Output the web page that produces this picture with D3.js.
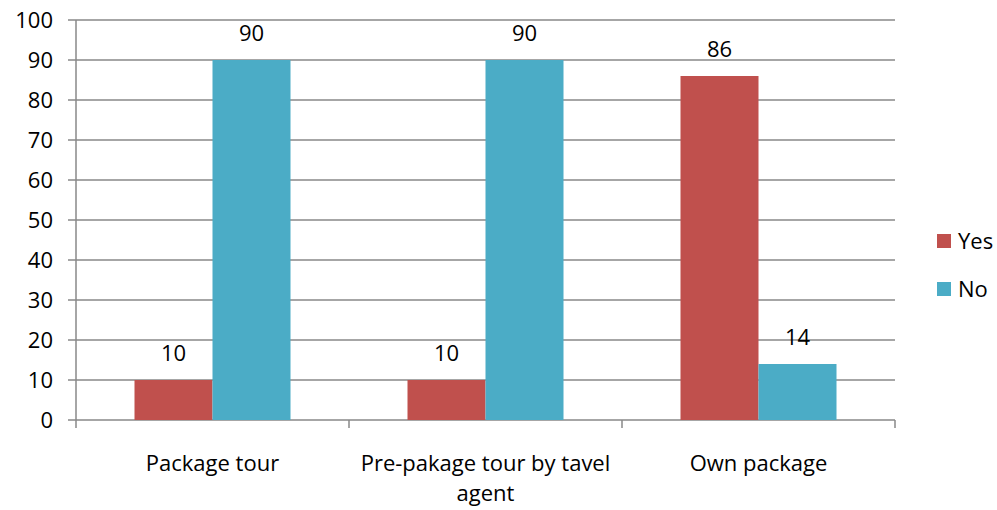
<!DOCTYPE html>
<html>
  <head>
    <meta charset="utf-8">
    <title></title>
    <style>
      body { margin: 0; background: #fff; }
      text { font-family: "Open Sans", "Noto Sans", sans-serif; fill: #000; }
    </style>
  </head>
  <body>
    <script src="https://cdn.jsdelivr.net/npm/d3@7"></script>
    <script>
      var categories = ['Package tour', 'Pre-pakage tour by tavel agent', 'Own package'];
      var categoryLines = [['Package tour'], ['Pre-pakage tour by tavel', 'agent'], ['Own package']];
      var seriesNames = ['Yes', 'No'];
      var yesValues = [10, 10, 86];
      var noValues = [90, 90, 14];
      var yTicks = [0, 10, 20, 30, 40, 50, 60, 70, 80, 90, 100];

      var width = 997,
        height = 510,
        plot = { left: 76, right: 895, top: 20, bottom: 420 },
        colors = ['#C0504D', '#4BACC6'],
        fontSize = '22px';

      var svg = d3.select('body')
        .append('svg')
        .attr('width', width)
        .attr('height', height);

      var x = d3.scaleBand()
        .domain(categories)
        .range([plot.left, plot.right])
        .paddingInner(0)
        .paddingOuter(0);

      // bar pair is centred in each slot, gap of 0.75 bar on each side
      var x1 = d3.scaleBand()
        .domain(seriesNames)
        .range([0, x.bandwidth()])
        .paddingInner(0)
        .paddingOuter(0.75);

      var y = d3.scaleLinear()
        .domain([0, 100])
        .range([plot.bottom, plot.top]);

      // grid lines
      svg.append('g')
        .selectAll('line')
        .data(yTicks)
        .enter()
        .append('line')
        .attr('x1', plot.left - 8)
        .attr('x2', plot.right)
        .attr('y1', function(d) { return y(d); })
        .attr('y2', function(d) { return y(d); })
        .attr('stroke', '#888')
        .attr('stroke-width', 1.5);

      // y labels
      svg.append('g')
        .selectAll('text')
        .data(yTicks)
        .enter()
        .append('text')
        .attr('x', 53)
        .attr('y', function(d) { return y(d); })
        .attr('dy', '0.36em')
        .attr('text-anchor', 'end')
        .attr('font-size', fontSize)
        .text(function(d) { return d; });

      // y axis line
      svg.append('line')
        .attr('x1', plot.left).attr('x2', plot.left)
        .attr('y1', plot.top).attr('y2', plot.bottom + 8)
        .attr('stroke', '#888')
        .attr('stroke-width', 1.5);

      // x ticks at category boundaries
      var bounds = categories.map(function(c) { return x(c); }).concat([plot.right]);
      svg.append('g')
        .selectAll('line')
        .data(bounds.slice(1))
        .enter()
        .append('line')
        .attr('x1', function(d) { return d; })
        .attr('x2', function(d) { return d; })
        .attr('y1', plot.bottom)
        .attr('y2', plot.bottom + 8)
        .attr('stroke', '#888')
        .attr('stroke-width', 1.5);

      var series = [yesValues, noValues];
      var groups = svg.append('g')
        .selectAll('g')
        .data(seriesNames)
        .enter()
        .append('g');

      groups.each(function(name, si) {
        var g = d3.select(this);
        g.selectAll('rect')
          .data(series[si])
          .enter()
          .append('rect')
          .attr('x', function(d, i) { return x(categories[i]) + x1(name); })
          .attr('y', function(d) { return y(d); })
          .attr('width', x1.bandwidth())
          .attr('height', function(d) { return y(0) - y(d); })
          .attr('fill', colors[si]);

        g.selectAll('text')
          .data(series[si])
          .enter()
          .append('text')
          .attr('x', function(d, i) { return x(categories[i]) + x1(name) + x1.bandwidth() / 2; })
          .attr('y', function(d) { return y(d) - 19; })
          .attr('text-anchor', 'middle')
          .attr('font-size', fontSize)
          .text(function(d) { return d; });
      });

      // category labels
      svg.append('g')
        .selectAll('text')
        .data(categories)
        .enter()
        .append('text')
        .attr('x', function(d) { return x(d) + x.bandwidth() / 2; })
        .attr('y', 471)
        .attr('text-anchor', 'middle')
        .attr('font-size', fontSize)
        .each(function(d, i) {
          var t = d3.select(this);
          categoryLines[i].forEach(function(line, li) {
            t.append('tspan')
              .attr('x', x(d) + x.bandwidth() / 2)
              .attr('dy', li === 0 ? 0 : 30)
              .text(line);
          });
        });

      // legend
      var legend = svg.append('g')
        .selectAll('g')
        .data(seriesNames)
        .enter()
        .append('g')
        .attr('transform', function(d, i) { return 'translate(937,' + (234 + i * 48) + ')'; });
      legend.append('rect')
        .attr('width', 14)
        .attr('height', 14)
        .attr('fill', function(d, i) { return colors[i]; });
      legend.append('text')
        .attr('x', 21)
        .attr('y', 7)
        .attr('dy', '0.36em')
        .attr('font-size', fontSize)
        .text(function(d) { return d; });
    </script>
  </body>
</html>
